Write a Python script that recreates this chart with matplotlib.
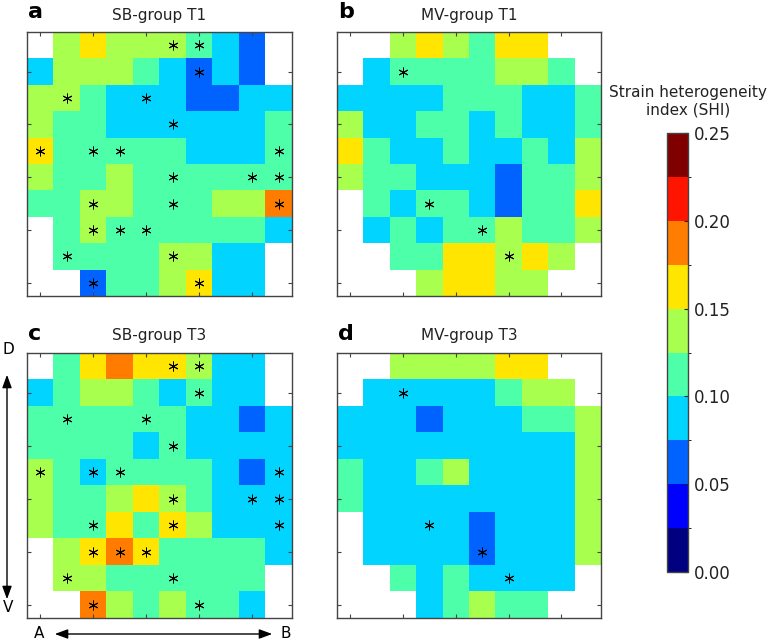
import numpy as np
import matplotlib
matplotlib.use("Agg")
import matplotlib.pyplot as plt
from matplotlib.colors import BoundaryNorm
from matplotlib.colorbar import ColorbarBase

N = np.nan
# SHI values (rows: D -> V, columns: A -> B)
sb_t1 = [
    [N, .14, .16, .14, .14, .14, .11, .09, .06, N],
    [.09, .14, .14, .14, .11, .09, .06, .09, .06, N],
    [.14, .14, .11, .09, .09, .09, .06, .06, .09, .09],
    [.14, .11, .11, .09, .09, .09, .09, .09, .09, .11],
    [.16, .11, .11, .11, .11, .11, .09, .09, .09, .11],
    [.14, .11, .11, .14, .11, .11, .11, .11, .11, .11],
    [.11, .11, .14, .14, .11, .11, .11, .14, .14, .19],
    [N, .11, .14, .11, .11, .11, .11, .11, .11, .09],
    [N, .11, .11, .11, .11, .14, .14, .09, .09, N],
    [N, N, .06, .11, .11, .14, .16, .09, .09, N],
]
mv_t1 = [
    [N, N, .14, .16, .14, .11, .16, .16, N, N],
    [N, .09, .11, .11, .11, .11, .14, .14, .11, N],
    [.09, .09, .09, .09, .11, .11, .11, .09, .09, .11],
    [.14, .09, .09, .11, .11, .09, .11, .09, .09, .11],
    [.16, .11, .09, .09, .11, .09, .09, .11, .09, .14],
    [.14, .11, .11, .09, .09, .09, .06, .11, .11, .14],
    [N, .11, .09, .11, .11, .09, .06, .11, .11, .16],
    [N, .09, .11, .09, .11, .11, .14, .11, .11, .14],
    [N, N, .11, .11, .16, .16, .14, .16, .14, N],
    [N, N, N, .14, .16, .16, .14, .14, N, N],
]
sb_t3 = [
    [N, .11, .16, .19, .16, .16, .14, .09, .09, N],
    [.09, .11, .14, .14, .11, .09, .11, .09, .09, N],
    [.11, .11, .11, .11, .11, .11, .09, .09, .06, .09],
    [.11, .11, .11, .11, .09, .11, .09, .09, .09, .09],
    [.14, .11, .09, .11, .11, .11, .11, .09, .06, .09],
    [.14, .11, .11, .14, .16, .14, .11, .09, .09, .09],
    [.14, .11, .11, .16, .11, .16, .14, .09, .09, .09],
    [N, .14, .16, .19, .16, .11, .11, .11, .11, .09],
    [N, .14, .14, .11, .11, .11, .11, .11, .11, N],
    [N, N, .19, .14, .11, .14, .11, .11, .09, N],
]
mv_t3 = [
    [N, N, .14, .14, .14, .14, .16, .16, N, N],
    [N, .09, .09, .09, .09, .09, .11, .14, .14, N],
    [.09, .09, .09, .06, .09, .09, .09, .11, .11, .14],
    [.09, .09, .09, .09, .09, .09, .09, .09, .09, .14],
    [.11, .09, .09, .11, .14, .09, .09, .09, .09, .14],
    [.11, .09, .09, .09, .09, .09, .09, .09, .09, .14],
    [N, .09, .09, .09, .09, .06, .09, .09, .09, .14],
    [N, .09, .09, .09, .09, .06, .09, .09, .09, .14],
    [N, N, .11, .09, .11, .09, .09, .09, .09, N],
    [N, N, N, .09, .11, .14, .11, .11, N, N],
]
# significant cells (row, col)
stars_sb_t1 = [(0, 5), (0, 6), (1, 6), (2, 1), (2, 4), (3, 5), (4, 0), (4, 2), (4, 3), (4, 9),
               (5, 5), (5, 8), (5, 9), (6, 2), (6, 5), (6, 9), (7, 2), (7, 3), (7, 4),
               (8, 1), (8, 5), (9, 2), (9, 6)]
stars_mv_t1 = [(1, 2), (6, 3), (7, 5), (8, 6)]
stars_sb_t3 = [(0, 5), (0, 6), (1, 6), (2, 1), (2, 4), (3, 5), (4, 0), (4, 2), (4, 3), (4, 9),
               (5, 5), (5, 8), (5, 9), (6, 2), (6, 5), (6, 9), (7, 2), (7, 3), (7, 4),
               (8, 1), (8, 5), (9, 2), (9, 6)]
stars_mv_t3 = [(1, 2), (6, 3), (7, 5), (8, 6)]

titles = ["SB-group T1", "MV-group T1", "SB-group T3", "MV-group T3"]
letters = ["a", "b", "c", "d"]
grids = [sb_t1, mv_t1, sb_t3, mv_t3]
stars = [stars_sb_t1, stars_mv_t1, stars_sb_t3, stars_mv_t3]
cbar_ticks = [0.00, 0.05, 0.10, 0.15, 0.20, 0.25]

W, H = 769, 643
fig = plt.figure(figsize=(W / 100, H / 100), dpi=100)

cmap = plt.get_cmap("jet", 10).copy()
cmap.set_bad("white")
bounds = np.linspace(0, 0.25, 11)
norm = BoundaryNorm(bounds, cmap.N)

def rect(x0, y0, x1, y1):
    return [x0 / W, 1 - y1 / H, (x1 - x0) / W, (y1 - y0) / H]

pos = [rect(27, 32, 292, 296), rect(337, 32, 601, 296),
       rect(27, 353, 292, 618), rect(337, 353, 601, 618)]
title_base = [20, 20, 340, 340]
letter_base = [18, 18, 340, 340]

for i in range(4):
    ax = fig.add_axes(pos[i])
    data = np.ma.masked_invalid(np.array(grids[i], dtype=float))
    ax.imshow(data, cmap=cmap, norm=norm, interpolation="nearest",
              extent=(-0.5, 9.5, 9.5, -0.5), aspect="auto")
    ax.set_xlim(-0.5, 9.5)
    ax.set_ylim(9.5, -0.5)
    if stars[i]:
        r, c = zip(*stars[i])
        ax.plot(c, r, linestyle="none", marker=(6, 2, 0), markersize=7,
                color="black", markeredgewidth=0.7)
    ax.set_xticks([0, 2, 4, 6, 8])
    ax.set_yticks([1, 3, 5, 7, 9])
    ax.tick_params(direction="in", length=3, width=0.8, colors="#444444",
                   top=True, right=True, labelbottom=False, labelleft=False)
    for s in ax.spines.values():
        s.set_color("#444444")
        s.set_linewidth(1.0)
    x0 = pos[i][0]
    fig.text(x0 + pos[i][2] / 2, 1 - title_base[i] / H, titles[i], ha="center",
             va="baseline", fontsize=11, color="#222222")
    fig.text(x0 + 1 / W, 1 - letter_base[i] / H, letters[i], ha="left",
             va="baseline", fontsize=16, fontweight="bold", color="black")

# colorbar
cax = fig.add_axes(rect(667, 133, 688, 572))
cb = ColorbarBase(cax, cmap=cmap, norm=norm, boundaries=bounds, ticks=cbar_ticks,
                  orientation="vertical")
cb.ax.set_yticklabels([f"{t:.2f}" for t in cbar_ticks])
cb.ax.tick_params(direction="in", length=3, width=0.8, labelsize=12,
                  colors="#222222", pad=4)
cb.outline.set_edgecolor("#444444")
cb.outline.set_linewidth(1.0)
fig.text(688 / W, 1 - 101 / H, "Strain heterogeneity\nindex (SHI)", ha="center",
         va="center", fontsize=11, color="#222222", linespacing=1.2)

# orientation arrows
astyle = "<|-|>,head_length=0.6,head_width=0.22"
fig.add_artist(matplotlib.patches.FancyArrowPatch(
    (7 / W, 1 - 372 / H), (7 / W, 1 - 602 / H), transform=fig.transFigure,
    arrowstyle=astyle, mutation_scale=13, color="black", lw=1.0))
fig.text(8 / W, 1 - 350 / H, "D", ha="center", va="center", fontsize=11)
fig.text(8 / W, 1 - 608 / H, "V", ha="center", va="center", fontsize=11)
fig.add_artist(matplotlib.patches.FancyArrowPatch(
    (52 / W, 1 - 634 / H), (275 / W, 1 - 634 / H), transform=fig.transFigure,
    arrowstyle=astyle, mutation_scale=13, color="black", lw=1.0))
fig.text(39 / W, 1 - 634 / H, "A", ha="center", va="center", fontsize=11)
fig.text(286 / W, 1 - 634 / H, "B", ha="center", va="center", fontsize=11)

fig.savefig("out.png", dpi=100)
